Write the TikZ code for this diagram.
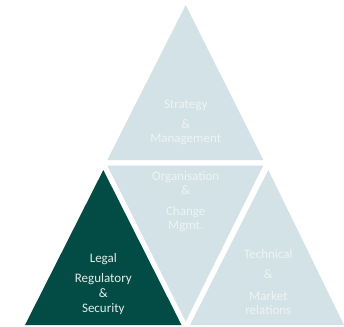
\documentclass[tikz,border=0pt]{standalone}
\usepackage{fontspec}
\setmainfont{Carlito}
\definecolor{paleblue}{HTML}{D3E2E6}
\definecolor{deepgreen}{HTML}{024C45}
\definecolor{palefont}{HTML}{EEF4F5}
\definecolor{darkfont}{HTML}{E4ECEA}
\tikzset{
  lbl/.style={align=center, inner sep=0pt, anchor=base, font=\fontsize{13}{14}\selectfont},
}
\begin{document}
\begin{tikzpicture}[x=1pt,y=-1pt]
    \useasboundingbox (0,0) rectangle (344,326);
    % triangles
    \fill[paleblue] (185.7,5) -- (263.3,160) -- (107.3,160) -- cycle;
    \fill[paleblue] (107.3,165.5) -- (263.3,165.5) -- (185.7,321.5) -- cycle;
    \fill[deepgreen] (103.3,170) -- (181.5,325) -- (25,325) -- cycle;
    \fill[paleblue] (268.3,170) -- (344,325) -- (190,325) -- cycle;
    % labels (base = last line)
    \node[lbl, text=palefont] (strategy) at (185.7,142) {Strategy\\[6pt] \&\\ Management};
    \node[lbl, text=palefont] (organisation) at (185.7,229) {Organisation\\ \&\\[7pt] Change\\ Mgmt.};
    \node[lbl, text=darkfont] (legal) at (103.3,312) {Legal\\[6pt] Regulatory\\[1pt] \&\\[1pt] Security};
    \node[lbl, text=palefont] (technical) at (268.3,314) {Technical\\[6pt] \&\\[8pt] Market\\ relations};
\end{tikzpicture}
\end{document}
